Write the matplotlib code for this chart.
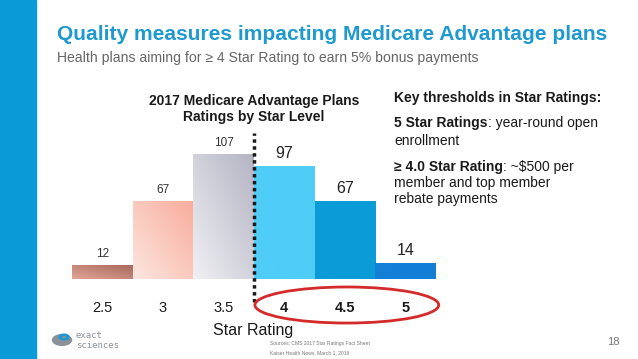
import numpy as np
import matplotlib
matplotlib.use("Agg")
import matplotlib.pyplot as plt
from matplotlib.patches import Rectangle, Ellipse, Circle, Wedge

plt.rcParams['font.family'] = ['Liberation Sans', 'DejaVu Sans']

# data
ratings = ['2.5', '3', '3.5', '4', '4.5', '5']
plans = [12, 67, 107, 97, 67, 14]
bold_ticks = [False, False, False, True, True, True]

# bar fills: (start colour, end colour) for a diagonal gradient
fills = [('#e2a596', '#a8695e'),
         ('#fde6df', '#f8ac9c'),
         ('#f0f0f4', '#b4b4c4'),
         ('#4fcdf7', '#4fcdf7'),
         ('#0b9bd7', '#0b9bd7'),
         ('#137fd6', '#137fd6')]

W, H = 638, 359
fig = plt.figure(figsize=(W / 100, H / 100), dpi=100)

def fx(px):
    return px / W

def fy(py):
    return 1 - py / H

# left blue band
fig.patches.append(Rectangle((0, 0), fx(36), 1, transform=fig.transFigure,
                             color='#0a9ad8', zorder=0))

# headings
fig.text(fx(57), fy(35), 'Quality measures impacting Medicare Advantage plans',
         fontsize=15.1, fontweight='bold', color='#1e9ad0', va='center')
fig.text(fx(57), fy(58), 'Health plans aiming for ≥ 4 Star Rating to earn 5% bonus payments',
         fontsize=10.1, color='#666666', va='center')

# bar chart
ax = fig.add_axes([fx(72), fy(279), fx(364), 140 / H])
x = np.arange(len(ratings))
bars = ax.bar(x, plans, width=1.0, color='none', edgecolor='none')
ax.set_xlim(-0.5, 5.5)
ax.set_ylim(0, 120)

t = np.linspace(0, 1, 64)
grad = (t[None, :] + t[::-1][:, None]) / 2  # top-left 0 -> bottom-right 1
for b, (c0, c1) in zip(bars, fills):
    r0 = np.array(matplotlib.colors.to_rgb(c0))
    r1 = np.array(matplotlib.colors.to_rgb(c1))
    img = r0[None, None, :] * (1 - grad[..., None]) + r1[None, None, :] * grad[..., None]
    x0, y0 = b.get_x(), b.get_y()
    im = ax.imshow(img, extent=(x0, x0 + b.get_width(), y0, y0 + b.get_height()),
                   aspect='auto', interpolation='bilinear', zorder=1)
    im.set_clip_path(b)

for i, (b, v) in enumerate(zip(bars, plans)):
    big = bold_ticks[i]
    ax.annotate(str(v), (b.get_x() + b.get_width() / 2, v),
                xytext=(0, 9 if big else 8), textcoords='offset points',
                ha='center', va='center', fontsize=11.5 if big else 8.5,
                color='#222222' if big else '#333333')

ax.set_xticks(x)
ax.set_xticklabels(ratings, fontsize=10.5, color='#1a1a1a')
for lab, bold in zip(ax.get_xticklabels(), bold_ticks):
    if bold:
        lab.set_fontweight('bold')
ax.tick_params(length=0, pad=16)
ax.set_yticks([])
for s in ax.spines.values():
    s.set_visible(False)
ax.set_xlim(-0.5, 5.5)

# 4-star threshold and highlight
ax.axvline(2.5, ymin=-0.165, ymax=1.043, color='#1a1a1a', lw=2.5,
           linestyle=(0, (1, 1)), clip_on=False, zorder=3)
ax.add_patch(Ellipse((4.03, -22.3), 3.03, 30.9, fill=False, edgecolor='#d42a2a',
                     lw=2, clip_on=False, zorder=3))

fig.text(fx(253), fy(331), 'Star Rating', fontsize=11.5, color='#1a1a1a',
         ha='center', va='center')
fig.text(fx(254), fy(109), '2017 Medicare Advantage Plans\nRatings by Star Level',
         fontsize=10, fontweight='bold', color='#1a1a1a', ha='center', va='center',
         linespacing=1.25)

# key thresholds text
def mixed(py, bold, rest):
    t1 = fig.text(fx(394), fy(py), bold, fontsize=10, fontweight='bold',
                  color='#1a1a1a', va='center')
    if rest:
        ax.annotate(rest, xy=(1, 0), xycoords=t1, va='bottom', ha='left',
                    fontsize=10, color='#1a1a1a', annotation_clip=False)

mixed(98, 'Key thresholds in Star Ratings:', '')
mixed(123, '5 Star Ratings', ': year-round open')
fig.text(fx(394), fy(141), 'enrollment', fontsize=10, color='#1a1a1a', va='center')
mixed(167, '≥ 4.0 Star Rating', ': ~$500 per')
fig.text(fx(394), fy(183), 'member and top member', fontsize=10, color='#1a1a1a', va='center')
fig.text(fx(394), fy(199), 'rebate payments', fontsize=10, color='#1a1a1a', va='center')

# footer: logo, sources, page number
fig.patches.append(Circle((fx(62), fy(340)), 9.5 / W, transform=fig.transFigure,
                          color='#8c9198', zorder=2))
fig.patches.append(Wedge((fx(64), fy(337)), 5 / W, 0, 360, width=2 / W,
                         transform=fig.transFigure, color='#1e9ad0', zorder=3))
fig.text(fx(76), fy(336), 'exact', fontsize=6.5, color='#8c9198', va='center',
         family='DejaVu Sans Mono')
fig.text(fx(76), fy(345), 'sciences', fontsize=6.5, color='#8c9198', va='center',
         family='DejaVu Sans Mono')
fig.text(fx(270), fy(344), 'Sources: CMS 2017 Star Ratings Fact Sheet', fontsize=3.6,
         color='#777777', va='center')
fig.text(fx(270), fy(353), 'Kaiser Health News, March 1, 2016', fontsize=3.6,
         color='#777777', va='center')
fig.text(fx(613), fy(342), '18', fontsize=8, color='#777777', ha='center', va='center')

fig.savefig('out.png', dpi=100)
